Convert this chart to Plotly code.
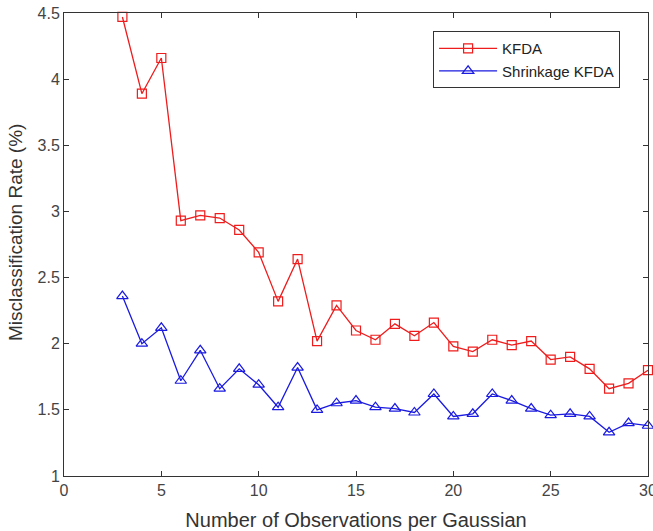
import plotly.graph_objects as go

x_obs = list(range(3, 31))
kfda = [4.47, 3.89, 4.16, 2.93, 2.97, 2.95, 2.86, 2.69, 2.32, 2.64, 2.02, 2.29, 2.10,
        2.03, 2.15, 2.06, 2.16, 1.98, 1.94, 2.03, 1.99, 2.02, 1.88, 1.90, 1.81, 1.66, 1.70, 1.80]
shrink = [2.36, 2.00, 2.12, 1.72, 1.95, 1.66, 1.81, 1.69, 1.52, 1.82, 1.50, 1.55, 1.57,
          1.52, 1.51, 1.48, 1.62, 1.45, 1.47, 1.62, 1.57, 1.51, 1.46, 1.47, 1.45, 1.33, 1.40, 1.38]
x_ticks = [0, 5, 10, 15, 20, 25, 30]
y_ticks = [1, 1.5, 2, 2.5, 3, 3.5, 4, 4.5]
y_tick_text = ["1", "1.5", "2", "2.5", "3", "3.5", "4", "4.5"]

FONT = "Liberation Sans, Arial, sans-serif"
RED = "#ee1c1c"
BLUE = "#1a1ae0"

fig = go.Figure()
fig.add_trace(go.Scatter(
    x=x_obs, y=kfda, name="KFDA", mode="lines+markers",
    line=dict(color=RED, width=1.3),
    marker=dict(symbol="square-open", size=9, color=RED, line=dict(width=1.2)),
    cliponaxis=False,
))
fig.add_trace(go.Scatter(
    x=x_obs, y=shrink, name="Shrinkage KFDA", mode="lines+markers",
    line=dict(color=BLUE, width=1.3),
    marker=dict(symbol="triangle-up-open", size=10, color=BLUE, line=dict(width=1.2)),
    cliponaxis=False,
))

axis_common = dict(
    showgrid=False, zeroline=False, showline=True, mirror="ticks",
    linecolor="#333333", linewidth=1, ticks="inside", ticklen=5,
    tickcolor="#333333", tickfont=dict(family=FONT, size=16, color="#444444"),
    automargin=False, ticklabeloverflow="allow",
)
fig.update_xaxes(range=[0, 30], tickvals=x_ticks, **axis_common,
                 title=dict(text="Number of Observations per Gaussian",
                            font=dict(family=FONT, size=20, color="#333333"),
                            standoff=14))
fig.update_yaxes(range=[1, 4.5], tickvals=y_ticks, ticktext=y_tick_text, **axis_common)

# y-axis title placed slightly above the plot centre, as in the reference
fig.add_annotation(
    text="Misclassification Rate (%)", textangle=-90,
    xref="paper", yref="paper", x=-0.082, y=0.527,
    xanchor="center", yanchor="middle", showarrow=False,
    font=dict(family=FONT, size=19, color="#333333"),
)

fig.update_layout(
    width=653, height=531,
    margin=dict(l=64, r=5, t=13, b=55),
    paper_bgcolor="white", plot_bgcolor="white",
    showlegend=True,
    legend=dict(
        x=0.632, y=0.961, xanchor="left", yanchor="top",
        bgcolor="white", bordercolor="#333333", borderwidth=1,
        font=dict(family=FONT, size=15, color="#222222"),
        tracegroupgap=0, itemwidth=58,
    ),
)

# remove the default page margin so the figure sits at the window's corner
fig.write_html("out.html",
               config={"displayModeBar": False},
               post_script="document.body.style.margin='0';document.body.style.overflow='hidden';")
